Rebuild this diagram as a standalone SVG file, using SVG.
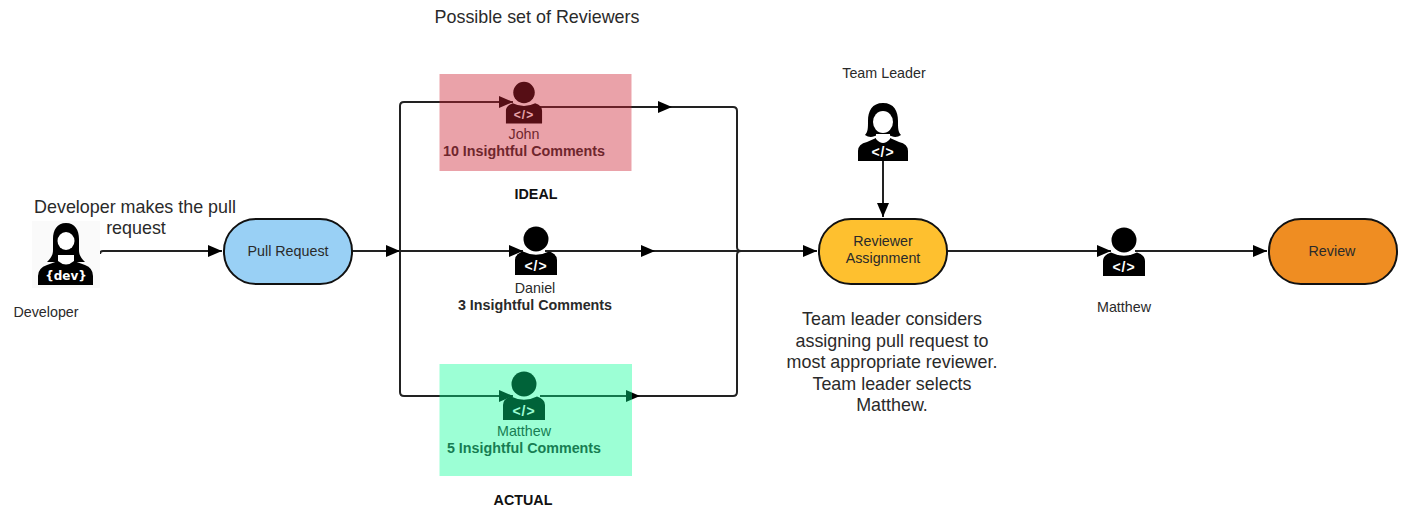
<svg xmlns="http://www.w3.org/2000/svg" xmlns:xlink="http://www.w3.org/1999/xlink" width="1405" height="507" viewBox="0 0 1405 507">
<style>
text{font-family:"Liberation Sans",Arial,sans-serif;fill:#2a2a2a;text-anchor:middle}
.s{font-size:14.300px}
.m{font-size:17.900px}
.b{font-size:14.300px;font-weight:bold}
.h{font-size:14.300px;font-weight:bold;fill:#111}
.code{font-size:14px;font-weight:bold;fill:#fff;letter-spacing:1px}
.proc{stroke:#111;stroke-width:2}
.line{fill:none;stroke:#222;stroke-width:2;stroke-linejoin:round}
</style>
<defs>
<marker id="arrow" markerUnits="userSpaceOnUse" markerWidth="15" markerHeight="12" refX="14" refY="6" orient="auto"><path d="M0,0L14,6L0,12Z" fill="#000"/></marker>
<g id="man"><circle cx="0" cy="0" r="12.500" fill="#000"/><path d="M-21,36V21Q-21,15 -13,12.500Q0,19 13,12.500Q21,15 21,21V36Z" fill="#000"/></g>
<g id="woman"><path d="M0,0C-11,0 -15,8 -15,18C-15,25 -15,29 -18,32C-14,35 -9,34 -6,32H6C9,34 14,35 18,32C15,29 15,25 15,18C15,8 11,0 0,0Z" fill="#000"/><ellipse cx="0" cy="19" rx="10" ry="11" fill="#fff"/><path d="M-25,58V48Q-25,41 -16,39L-7,35V30H7V35L16,39Q25,41 25,48V58Z" fill="#000"/><path d="M-7,31H7V36Q0,44 -7,36Z" fill="#fff"/></g>
</defs>
<g id="connectors">
<path class="line" marker-end="url(#arrow)" d="M100,254Q100,251 103,251H222"/>
<path class="line" marker-end="url(#arrow)" d="M352,251H400"/>
<path class="line" marker-end="url(#arrow)" d="M400,251V106Q400,102 404,102H513"/>
<path class="line" marker-end="url(#arrow)" d="M540,107H672"/>
<path class="line" d="M672,107H733Q737,107 737,111V247Q737,251 741,251"/>
<path class="line" marker-end="url(#arrow)" d="M400,251H523"/>
<path class="line" marker-end="url(#arrow)" d="M545,251H655"/>
<path class="line" d="M655,251H737"/>
<path class="line" marker-end="url(#arrow)" d="M400,251V392Q400,396 404,396H513"/>
<path class="line" marker-end="url(#arrow)" d="M540,396H640"/>
<path class="line" d="M640,396H733Q737,396 737,392V255Q737,251 741,251"/>
<path class="line" marker-end="url(#arrow)" d="M737,251H817"/>
<path class="line" marker-end="url(#arrow)" d="M883,161V217"/>
<path class="line" marker-end="url(#arrow)" d="M947,251H1111"/>
<path class="line" marker-end="url(#arrow)" d="M1135,251H1267"/>
</g>
<g id="title"><text class="m" x="537" y="23">Possible set of Reviewers</text></g>
<g id="developer">
<rect x="32" y="221" width="68" height="67" fill="#fafafa"/>
<path d="M66,223C57,223 53,230 53,239V250C53,255 51,258 47,262H85C81,258 79,255 79,250V239C79,230 75,223 66,223Z" fill="#000"/>
<ellipse cx="66" cy="241" rx="8.500" ry="9" fill="#fff"/>
<path d="M38,285V276Q38,268 47,265L58,261V254H74V261L85,265Q93,268 93,276V285Z" fill="#000"/>
<path d="M58,255H74V261Q66,268 58,261Z" fill="#fff"/>
<text x="66" y="280" style="font-size:12px;font-weight:bold;fill:#fff;font-family:'DejaVu Sans',sans-serif">{dev}</text>
<text class="m" x="135" y="213">Developer makes the pull</text>
<text class="m" x="136" y="234">request</text>
<text class="s" x="46" y="317">Developer</text>
</g>
<g id="pull-request">
<rect class="proc" x="224" y="219" width="128" height="65" rx="32" fill="#99d0f5"/>
<text class="s" x="288" y="256">Pull Request</text>
</g>
<g id="john">
<use xlink:href="#man" href="#man" transform="translate(524,92.500) scale(.86)"/>
<text class="code" x="524" y="119" style="font-size:12px">&lt;/&gt;</text>
<text class="s" x="524" y="139">John</text>
<text class="b" x="524" y="156">10 Insightful Comments</text>
<rect x="439.500" y="74" width="192" height="97" fill="#cc2233" opacity=".42"/>
</g>
<g id="ideal-label"><text class="h" x="536" y="199">IDEAL</text></g>
<g id="daniel">
<use xlink:href="#man" href="#man" transform="translate(536,239)"/>
<text class="code" x="536" y="271">&lt;/&gt;</text>
<text class="s" x="535" y="293">Daniel</text>
<text class="b" x="535" y="310">3 Insightful Comments</text>
</g>
<g id="matthew-actual">
<use xlink:href="#man" href="#man" transform="translate(524,384)"/>
<text class="code" x="524" y="416">&lt;/&gt;</text>
<text class="s" x="524" y="436">Matthew</text>
<text class="b" x="524" y="453">5 Insightful Comments</text>
<rect x="439.500" y="364" width="192.500" height="112" fill="#00ff92" opacity=".39"/>
</g>
<g id="actual-label"><text class="h" x="523" y="505">ACTUAL</text></g>
<g id="team-leader">
<text class="s" x="884" y="78">Team Leader</text>
<use xlink:href="#woman" href="#woman" transform="translate(883,103)"/>
<text class="code" x="883" y="157">&lt;/&gt;</text>
</g>
<g id="reviewer-assignment">
<rect class="proc" x="819" y="219" width="128" height="65" rx="32" fill="#fec02f"/>
<text class="s" x="883" y="246">Reviewer</text>
<text class="s" x="883" y="263">Assignment</text>
</g>
<g id="team-leader-note">
<text class="m" x="892" y="325">Team leader considers</text>
<text class="m" x="892" y="347">assigning pull request to</text>
<text class="m" x="892" y="368">most appropriate reviewer.</text>
<text class="m" x="892" y="390">Team leader selects</text>
<text class="m" x="892" y="411">Matthew.</text>
</g>
<g id="matthew">
<use xlink:href="#man" href="#man" transform="translate(1124,240)"/>
<text class="code" x="1124" y="272">&lt;/&gt;</text>
<text class="s" x="1124" y="312">Matthew</text>
</g>
<g id="review">
<rect class="proc" x="1269" y="219" width="128" height="65" rx="32" fill="#ef8d22"/>
<text class="s" x="1332" y="256">Review</text>
</g>
</svg>
